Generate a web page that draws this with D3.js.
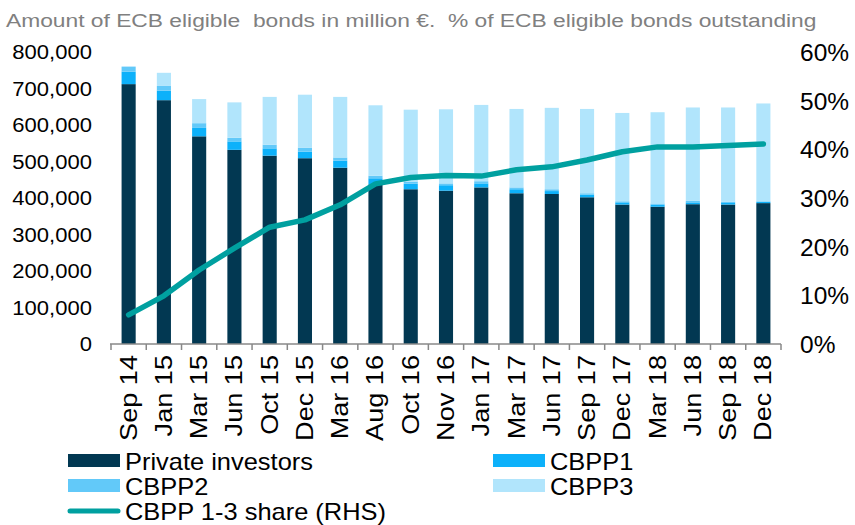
<!DOCTYPE html>
<html>
<head>
  <title>ECB eligible covered bonds</title>
  <meta charset="utf-8">
  <script src="https://d3js.org/d3.v7.min.js"></script>
  <style>
    body { margin: 0; background: #fff; }
    text { font-family: "Liberation Sans", Arial, sans-serif; }
  </style>
</head>
<body>
  <svg id="chart" width="855" height="525"></svg>

  <script>
    // Datos (en millones de €)
    const categories = ["Sep 14", "Jan 15", "Mar 15", "Jun 15", "Oct 15", "Dec 15", "Mar 16", "Aug 16", "Oct 16", "Nov 16",
      "Jan 17", "Mar 17", "Jun 17", "Sep 17", "Dec 17", "Mar 18", "Jun 18", "Sep 18", "Dec 18"];
    const privateInvestors = [712000, 668000, 569000, 532000, 516000, 509000, 483000, 437000, 424000, 420000,
      429000, 413000, 411000, 402000, 382000, 376000, 383000, 382000, 386000];
    const cbpp1 = [34000, 26000, 23000, 23000, 20000, 18000, 19000, 17000, 15000, 15000,
      11000, 11000, 8000, 7000, 6000, 6000, 5000, 6000, 3000];
    const cbpp2 = [14000, 13000, 13000, 10000, 10000, 11000, 9000, 7000, 6000, 5000,
      6000, 5000, 5000, 4000, 3000, 3000, 4000, 2000, 2000];
    const cbpp3 = [0, 36000, 66000, 97000, 131000, 145000, 166000, 193000, 197000, 203000,
      209000, 215000, 223000, 231000, 242000, 250000, 256000, 258000, 268000];
    const share = [6.0, 9.9, 15.2, 19.7, 24.0, 25.5, 28.6, 32.9, 34.2, 34.6,
      34.5, 35.8, 36.4, 37.8, 39.5, 40.5, 40.5, 40.8, 41.1];

    const leftTicks = [0, 100000, 200000, 300000, 400000, 500000, 600000, 700000, 800000];
    const rightTicks = [0, 10, 20, 30, 40, 50, 60];

    const seriesNames = ["Private investors", "CBPP1", "CBPP2", "CBPP3"];
    const colors = ["#023852", "#0db1fa", "#62c9f9", "#b1e5fc"];
    const lineName = "CBPP 1-3 share (RHS)";
    const lineColor = "#00a0a0";

    const svg = d3.select("#chart");

    // Escalas
    const x = d3.scaleBand().domain(categories).range([111, 781]).padding(0);
    const yLeft = d3.scaleLinear().domain([0, 800000]).range([344, 52]);
    const yRight = d3.scaleLinear().domain([0, 60]).range([344, 52]);
    const barWidth = x.bandwidth() * 0.4;

    // Apilar las series
    const table = categories.map((c, i) => ({
      cat: c,
      "Private investors": privateInvestors[i],
      "CBPP1": cbpp1[i],
      "CBPP2": cbpp2[i],
      "CBPP3": cbpp3[i]
    }));
    const stacked = d3.stack().keys(seriesNames)(table);

    // Título (el original tiene el texto algo ensanchado)
    svg.append("text")
      .attr("transform", "translate(6,27) scale(1.2,1)")
      .attr("fill", "#808080")
      .style("font-size", "19px")
      .style("white-space", "pre")
      .text("Amount of ECB eligible  bonds in million €.  % of ECB eligible bonds outstanding");

    // Barras
    svg.append("g")
      .selectAll("g")
      .data(stacked)
      .enter()
      .append("g")
      .attr("fill", (d, i) => colors[i])
      .selectAll("rect")
      .data(d => d)
      .enter()
      .append("rect")
      .attr("x", d => x(d.data.cat) + (x.bandwidth() - barWidth) / 2)
      .attr("y", d => yLeft(d[1]))
      .attr("width", barWidth)
      .attr("height", d => yLeft(d[0]) - yLeft(d[1]));

    // Eje X
    const xAxis = svg.append("g").attr("transform", "translate(0,344)");
    xAxis.append("line")
      .attr("x1", 110).attr("x2", 781)
      .attr("stroke", "#888").attr("stroke-width", 1.5);
    xAxis.selectAll(".tick")
      .data(categories.concat(["end"]))
      .enter()
      .append("line")
      .attr("x1", (d, i) => i < categories.length ? x(d) : x.range()[1])
      .attr("x2", (d, i) => i < categories.length ? x(d) : x.range()[1])
      .attr("y1", 0).attr("y2", 6)
      .attr("stroke", "#888").attr("stroke-width", 1.5);
    xAxis.selectAll(".label")
      .data(categories)
      .enter()
      .append("text")
      .attr("transform", d => `translate(${x(d) + x.bandwidth() / 2 + 8},11) rotate(-90) scale(1.13,1)`)
      .attr("text-anchor", "end")
      .style("font-size", "24px")
      .text(d => d);

    // Eje izquierdo
    svg.append("g")
      .selectAll("text")
      .data(leftTicks)
      .enter()
      .append("text")
      .attr("transform", d => `translate(92,${yLeft(d) + 7}) scale(1.13,1)`)
      .attr("text-anchor", "end")
      .style("font-size", "19.5px")
      .text(d => d3.format(",")(d));

    // Eje derecho
    svg.append("g")
      .selectAll("text")
      .data(rightTicks)
      .enter()
      .append("text")
      .attr("x", 800)
      .attr("y", d => yRight(d) + 9)
      .style("font-size", "24.5px")
      .text(d => d + "%");

    // Línea de participación
    const line = d3.line()
      .x((d, i) => x(categories[i]) + x.bandwidth() / 2)
      .y(d => yRight(d));
    svg.append("path")
      .datum(share)
      .attr("d", line)
      .attr("fill", "none")
      .attr("stroke", lineColor)
      .attr("stroke-width", 5.5)
      .attr("stroke-linecap", "round")
      .attr("stroke-linejoin", "round");

    // Leyenda
    const legendItems = [
      { name: seriesNames[0], color: colors[0], col: 0, row: 0 },
      { name: seriesNames[1], color: colors[1], col: 1, row: 0 },
      { name: seriesNames[2], color: colors[2], col: 0, row: 1 },
      { name: seriesNames[3], color: colors[3], col: 1, row: 1 },
      { name: lineName, color: lineColor, col: 0, row: 2, isLine: true }
    ];
    const legend = svg.append("g");
    legendItems.forEach(d => {
      const lx = d.col === 0 ? 68 : 493;
      const ly = 461 + d.row * 25;
      if (d.isLine) {
        legend.append("line")
          .attr("x1", lx + 2).attr("x2", lx + 50)
          .attr("y1", ly).attr("y2", ly)
          .attr("stroke", d.color).attr("stroke-width", 5)
          .attr("stroke-linecap", "round");
      } else {
        legend.append("rect")
          .attr("x", lx).attr("y", ly - 7)
          .attr("width", 52).attr("height", 13)
          .attr("fill", d.color);
      }
      legend.append("text")
        .attr("transform", `translate(${lx + 57},${ly + 9}) scale(1.06,1)`)
        .style("font-size", "24px")
        .text(d.name);
    });
  </script>
</body>
</html>
